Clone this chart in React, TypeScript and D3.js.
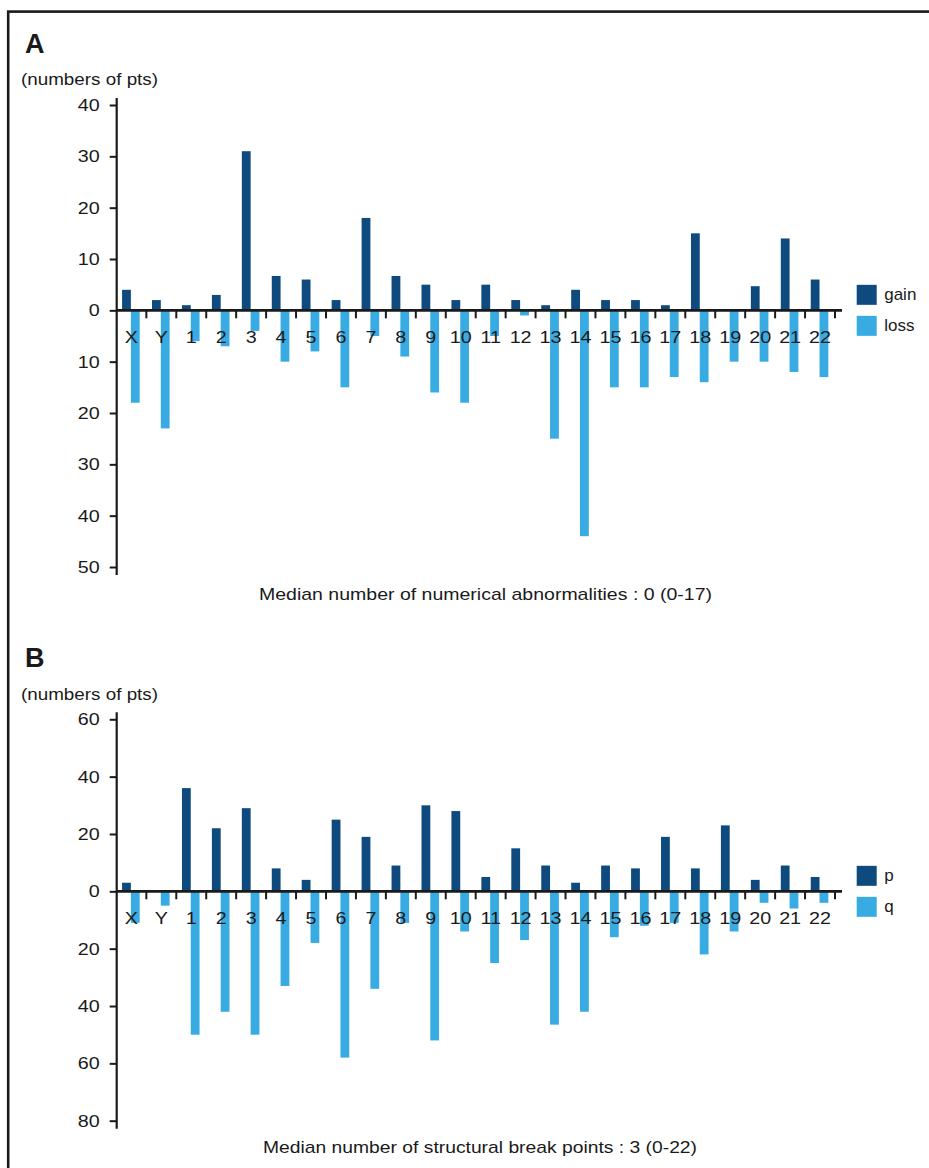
import React, { useEffect, useRef } from 'react'
import * as d3 from 'd3'

// chromosome order on the x axis
const chromosomes = ['X', 'Y', '1', '2', '3', '4', '5', '6', '7', '8', '9', '10', '11',
    '12', '13', '14', '15', '16', '17', '18', '19', '20', '21', '22']

// panel A: numerical abnormalities (numbers of pts)
const gainA = [4, 2, 1, 3, 31, 6.7, 6, 2, 18, 6.7, 5, 2, 5, 2, 1, 4, 2, 2, 1, 15, 0, 4.7, 14, 6]
const lossA = [18, 23, 6, 7, 4, 10, 8, 15, 5, 9, 16, 18, 5, 1, 25, 44, 15, 15, 13, 14, 10, 10, 12, 13]
const ticksA = [40, 30, 20, 10, 0, -10, -20, -30, -40, -50]

// panel B: structural break points (numbers of pts)
const pArmB = [3, 0, 36, 22, 29, 8, 4, 25, 19, 9, 30, 28, 5, 15, 9, 3, 9, 8, 19, 8, 23, 4, 9, 5]
const qArmB = [11, 5, 50, 42, 50, 33, 18, 58, 34, 11, 52, 14, 25, 17, 46.5, 42, 16, 12, 11, 22, 14, 4, 6, 4]
const ticksB = [60, 40, 20, 0, -20, -40, -60, -80]

const width = 929
const height = 1168
const dark = '#0e4a7e'
const light = '#38abe2'
const ink = '#1a1a1a'
const font = '"Liberation Sans", Arial, Helvetica, sans-serif'
const stretch = 1.16

const panels = [
    {
        letter: 'A', up: gainA, down: lossA, ticks: ticksA, yTop: 105, yBottom: 567,
        legend: ['gain', 'loss'],
        caption: 'Median number of numerical abnormalities : 0 (0-17)',
        captionX: 485.5, captionY: 599.5, captionLen: 453
    },
    {
        letter: 'B', up: pArmB, down: qArmB, ticks: ticksB, yTop: 719.3, yBottom: 1120.7,
        legend: ['p', 'q'],
        caption: 'Median number of structural break points : 3 (0-22)',
        captionX: 480, captionY: 1153, captionLen: 434
    }
]

const axisX = 116.7

function drawPanel(svg, p) {
    const y = d3.scaleLinear()
        .domain([d3.min(p.ticks), d3.max(p.ticks)])
        .range([p.yBottom, p.yTop])

    const x = d3.scaleBand()
        .domain(chromosomes)
        .range([116.4, 835])

    const inner = d3.scaleBand()
        .domain(['up', 'down'])
        .range([-9.3, 8.3])

    const cx = c => x(c) + x.bandwidth() / 2
    const y0 = y(0)
    const g = svg.append('g')

    // bars above (gain / p) and below (loss / q) the zero line
    g.append('g')
        .attr('fill', dark)
      .selectAll('rect')
      .data(chromosomes)
      .join('rect')
        .attr('x', (c) => cx(c) + inner('up'))
        .attr('width', inner.bandwidth())
        .attr('y', (c, i) => y(p.up[i]))
        .attr('height', (c, i) => y0 - y(p.up[i]))

    g.append('g')
        .attr('fill', light)
      .selectAll('rect')
      .data(chromosomes)
      .join('rect')
        .attr('x', (c) => cx(c) + inner('down'))
        .attr('width', inner.bandwidth())
        .attr('y', y0)
        .attr('height', (c, i) => y(-p.down[i]) - y0)

    // y axis
    const yAxis = g.append('g')
        .attr('transform', `translate(${axisX},0)`)
        .call(d3.axisLeft(y)
            .tickValues(p.ticks)
            .tickFormat(d => Math.abs(d))
            .tickSize(7)
            .tickPadding(10))
    yAxis.select('.domain').remove()
    yAxis.selectAll('.tick line').attr('stroke', ink).attr('stroke-width', 2)
    yAxis.selectAll('.tick text')
        .attr('x', 0)
        .attr('transform', `translate(-17,0) scale(${stretch},1)`)
        .attr('fill', ink)
        .attr('font-family', font)
        .attr('font-size', 17)
    g.append('line')
        .attr('x1', axisX).attr('x2', axisX)
        .attr('y1', p.yTop - 7).attr('y2', p.yBottom + 8)
        .attr('stroke', ink).attr('stroke-width', 2.2)

    // zero line with ticks between chromosomes
    g.append('g')
        .attr('stroke', ink)
        .attr('stroke-width', 2)
      .selectAll('line')
      .data(chromosomes)
      .join('line')
        .attr('x1', c => x(c) + x.bandwidth())
        .attr('x2', c => x(c) + x.bandwidth())
        .attr('y1', y0)
        .attr('y2', y0 + 8)
    g.append('line')
        .attr('x1', axisX).attr('x2', 842)
        .attr('y1', y0).attr('y2', y0)
        .attr('stroke', ink).attr('stroke-width', 2.6)

    g.append('g')
        .attr('font-family', font)
        .attr('font-size', 17)
        .attr('fill', ink)
        .attr('text-anchor', 'middle')
      .selectAll('text')
      .data(chromosomes)
      .join('text')
        .attr('transform', c => `translate(${cx(c)},${y0 + 32.5}) scale(${stretch},1)`)
        .text(c => c)

    // panel letter and unit label
    g.append('text')
        .attr('x', 25).attr('y', p.yTop - 52.4)
        .attr('font-family', font).attr('font-weight', 'bold').attr('font-size', 27)
        .attr('fill', ink)
        .text(p.letter)
    g.append('text')
        .attr('x', 21).attr('y', p.yTop - 19.6)
        .attr('font-family', font).attr('font-size', 17)
        .attr('textLength', 137).attr('lengthAdjust', 'spacingAndGlyphs')
        .attr('fill', ink)
        .text('(numbers of pts)')

    // legend
    const legend = g.append('g')
        .attr('transform', `translate(856.7,${y0 - 25.5})`)
    p.legend.forEach((name, i) => {
        legend.append('rect')
            .attr('x', 0).attr('y', i * 31)
            .attr('width', 20).attr('height', 20)
            .attr('fill', i === 0 ? dark : light)
        legend.append('text')
            .attr('x', 27.5).attr('y', i * 31 + 15.5)
            .attr('font-family', font).attr('font-size', 17)
            .attr('fill', ink)
            .text(name)
    })

    // caption
    g.append('text')
        .attr('x', p.captionX).attr('y', p.captionY)
        .attr('text-anchor', 'middle')
        .attr('font-family', font).attr('font-size', 17)
        .attr('textLength', p.captionLen).attr('lengthAdjust', 'spacingAndGlyphs')
        .attr('fill', ink)
        .text(p.caption)
}

export default function App() {
    const node = useRef(null)

    useEffect(() => {
        const svg = d3.select(node.current)
        svg.selectAll('*').remove()

        svg.append('rect')
            .attr('x', 8.2).attr('y', 11.6)
            .attr('width', 1000).attr('height', 1200)
            .attr('fill', 'none')
            .attr('stroke', ink)
            .attr('stroke-width', 2.6)

        panels.forEach(p => drawPanel(svg, p))
    }, [])

    return (
        <svg
            ref={node}
            width={width}
            height={height}
            viewBox={`0 0 ${width} ${height}`}
            style={{ position: 'absolute', left: 0, top: 0, background: '#fff' }}
        />
    )
}
